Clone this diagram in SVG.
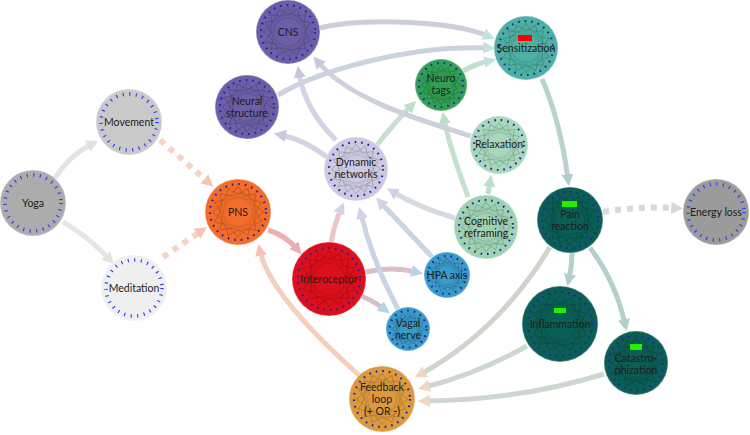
<svg xmlns="http://www.w3.org/2000/svg" xmlns:xlink="http://www.w3.org/1999/xlink" width="750" height="435" viewBox="0 0 750 435">
<style>
text{font-family:Lato,"Open Sans","Liberation Sans",sans-serif;font-size:10.5px;fill:#1c1c1c;text-anchor:middle}
.e{fill:none;stroke-width:5;stroke-linecap:butt}
.d{stroke-dasharray:6 6;stroke-width:6}
.dots{fill:none;stroke:#23239a;stroke-width:2.2;stroke-dasharray:1.6 5}
.ticks{fill:none;stroke:#2a3cf0;stroke-width:3.5;stroke-dasharray:1.1 5.5}
.rim{stroke:#ffffff;stroke-opacity:0.25;stroke-width:1.5}
</style>
<defs>
<symbol id="net" viewBox="-1 -1 2 2" overflow="visible">
<g fill="none" stroke="#000" stroke-width="0.5">
<path stroke-opacity="0.13" vector-effect="non-scaling-stroke" d="M0.85,0 L-0.325,0.785 L-0.601,-0.601 L0.785,-0.325 L0,0.85 L-0.785,-0.325 L0.601,-0.601 L0.325,0.785 L-0.85,0 L0.325,-0.785 L0.601,0.601 L-0.785,0.325 L0,-0.85 L0.785,0.325 L-0.601,0.601 L-0.325,-0.785 Z"/>
<path stroke-opacity="0.24" vector-effect="non-scaling-stroke" d="M0.85,0 Q0.45,0.3 0.325,0.785 Q0,0.45 -0.601,0.601 Q-0.4,0.1 -0.785,-0.325 Q-0.3,-0.4 0,-0.85 Q0.35,-0.35 0.785,-0.325 Q0.45,0.05 0.601,0.601 Q0.1,0.5 -0.325,0.785 Q-0.4,0.3 -0.85,0 Q-0.45,-0.3 -0.325,-0.785 Q0.1,-0.5 0.601,-0.601 Q0.45,-0.1 0.785,0.325 Q0.35,0.45 0,0.85 Q-0.3,0.4 -0.785,0.325 Q-0.45,-0.1 -0.601,-0.601 Q-0.05,-0.45 0.325,-0.785 Q0.4,-0.3 0.85,0"/>
</g>
</symbol>
<marker id="mGrey" viewBox="0 0 10 10" refX="4" refY="5" markerWidth="12" markerHeight="13" markerUnits="userSpaceOnUse" orient="auto"><path d="M0,0 L10,5 L0,10 Z" fill="#e2e2e2"/></marker>
<marker id="mDGrey" viewBox="0 0 10 10" refX="4" refY="5" markerWidth="12" markerHeight="13" markerUnits="userSpaceOnUse" orient="auto"><path d="M0,0 L10,5 L0,10 Z" fill="#d6d6d6"/></marker>
<marker id="mPns" viewBox="0 0 10 10" refX="4" refY="5" markerWidth="12" markerHeight="13" markerUnits="userSpaceOnUse" orient="auto"><path d="M0,0 L10,5 L0,10 Z" fill="#f8c4b2"/></marker>
<marker id="mInt" viewBox="0 0 10 10" refX="4" refY="5" markerWidth="12" markerHeight="13" markerUnits="userSpaceOnUse" orient="auto"><path d="M0,0 L10,5 L0,10 Z" fill="#eaaeb0"/></marker>
<marker id="mDyn" viewBox="0 0 10 10" refX="4" refY="5" markerWidth="12" markerHeight="13" markerUnits="userSpaceOnUse" orient="auto"><path d="M0,0 L10,5 L0,10 Z" fill="#d3d1e5"/></marker>
<marker id="mBlue" viewBox="0 0 10 10" refX="4" refY="5" markerWidth="12" markerHeight="13" markerUnits="userSpaceOnUse" orient="auto"><path d="M0,0 L10,5 L0,10 Z" fill="#b8d3e8"/></marker>
<marker id="mPur" viewBox="0 0 10 10" refX="4" refY="5" markerWidth="12" markerHeight="13" markerUnits="userSpaceOnUse" orient="auto"><path d="M0,0 L10,5 L0,10 Z" fill="#c9c6df"/></marker>
<marker id="mGreen" viewBox="0 0 10 10" refX="4" refY="5" markerWidth="12" markerHeight="13" markerUnits="userSpaceOnUse" orient="auto"><path d="M0,0 L10,5 L0,10 Z" fill="#bddec8"/></marker>
<marker id="mTeal" viewBox="0 0 10 10" refX="4" refY="5" markerWidth="12" markerHeight="13" markerUnits="userSpaceOnUse" orient="auto"><path d="M0,0 L10,5 L0,10 Z" fill="#c4e1dc"/></marker>
<marker id="mDTeal" viewBox="0 0 10 10" refX="4" refY="5" markerWidth="12" markerHeight="13" markerUnits="userSpaceOnUse" orient="auto"><path d="M0,0 L10,5 L0,10 Z" fill="#b3cdca"/></marker>
<marker id="mFeed" viewBox="0 0 10 10" refX="4" refY="5" markerWidth="12" markerHeight="13" markerUnits="userSpaceOnUse" orient="auto"><path d="M0,0 L10,5 L0,10 Z" fill="#f2d5c2"/></marker>
</defs>

<g id="connectors">
<path class="e" stroke="#e4e4e4" marker-end="url(#mGrey)" d="M55,178 Q70,155 92,144"/>
<path class="e" stroke="#e6e6e6" marker-end="url(#mGrey)" d="M63,222 Q88,236 109,259"/>
<path class="e d" stroke="#f6d3c9" marker-end="url(#mPns)" d="M160,140 L208,182"/>
<path class="e d" stroke="#f6d3c9" marker-end="url(#mPns)" d="M163,257 L201,231"/>
<path class="e" stroke="#eeb0ae" marker-end="url(#mInt)" d="M268,230 Q285,235 297,249"/>
<path class="e" stroke="#f5cfbd" marker-end="url(#mPns)" d="M360,376 Q270,296 260,251"/>
<path class="e" stroke="#ebc6ca" marker-end="url(#mDyn)" d="M331,243 Q334,225 341,209"/>
<path class="e" stroke="#d9bfc9" marker-end="url(#mBlue)" d="M366,272 Q392,266 416,272"/>
<path class="e" stroke="#d2c0cc" marker-end="url(#mBlue)" d="M361,296 Q372,300 384,309"/>
<path class="e" stroke="#c9d4e4" marker-end="url(#mDyn)" d="M398,309 Q372,260 361,214"/>
<path class="e" stroke="#c9d4e4" marker-end="url(#mDyn)" d="M432,257 Q405,228 381,203"/>
<path class="e" stroke="#d6dbe2" marker-end="url(#mDyn)" d="M455,218 Q420,208 393,192"/>
<path class="e" stroke="#bbdec8" marker-end="url(#mGreen)" d="M488,194 L490,182"/>
<path class="e" stroke="#c5e1cd" marker-end="url(#mGreen)" d="M468,197 Q448,142 444,119"/>
<path class="e" stroke="#d5d3e3" marker-end="url(#mPur)" d="M327,157 Q305,140 281,135"/>
<path class="e" stroke="#d5d3e3" marker-end="url(#mPur)" d="M336,140 Q305,110 299,73"/>
<path class="e" stroke="#c9ddd0" marker-end="url(#mGreen)" d="M377,145 Q395,122 411,106"/>
<path class="e" stroke="#cdd1dc" marker-end="url(#mPur)" d="M471,136 C420,120 350,100 318,62"/>
<path class="e" stroke="#cbcedb" marker-end="url(#mTeal)" d="M320,28 C360,18 450,20 488,36"/>
<path class="e" stroke="#cad3de" marker-end="url(#mTeal)" d="M278,95 C320,70 410,45 488,48"/>
<path class="e" stroke="#c1e0d3" marker-end="url(#mTeal)" d="M463,71 Q475,64 489,61"/>
<path class="e" stroke="#bad2cf" marker-end="url(#mDTeal)" d="M542,79 Q560,120 568,179"/>
<path class="e d" stroke="#d9d9d9" marker-end="url(#mDGrey)" d="M603,212 Q640,206 676,208"/>
<path class="e" stroke="#b6cfcc" marker-end="url(#mDTeal)" d="M572,253 Q572,265 569,279"/>
<path class="e" stroke="#b6cfcc" marker-end="url(#mDTeal)" d="M590,248 Q615,280 625,324"/>
<path class="e" stroke="#cfd5cb" marker-end="url(#mFeed)" d="M550,247 Q500,330 421,374"/>
<path class="e" stroke="#cdd7d0" marker-end="url(#mFeed)" d="M527,346 Q475,375 425,387"/>
<path class="e" stroke="#ced7ce" marker-end="url(#mFeed)" d="M604,374 Q520,400 425,401"/>
</g>

<g id="yoga"><circle class="rim" cx="33" cy="203" r="33" fill="#acacac"/><circle class="ticks" cx="33" cy="203" r="28"/><text x="33" y="207">Yoga</text></g>
<g id="movement"><circle class="rim" cx="129" cy="122" r="33" fill="#c9c9c9"/><circle class="ticks" cx="129" cy="122" r="28"/><text x="129" y="126">Movement</text></g>
<g id="meditation"><circle class="rim" cx="134" cy="288" r="33" fill="#efefef"/><circle class="ticks" cx="134" cy="288" r="28"/><text x="134" y="292">Meditation</text></g>
<g id="energy-loss"><circle class="rim" cx="716" cy="212" r="33" fill="#9b9b9b"/><circle class="ticks" cx="716" cy="212" r="28"/><text x="716" y="216">Energy loss</text></g>

<g id="pns"><circle class="rim" cx="238" cy="212" r="33" fill="#f26c2b"/><use href="#net" x="208" y="182" width="60" height="60"/><circle class="dots" cx="238" cy="212" r="28"/><text x="238" y="216">PNS</text></g>
<g id="cns"><circle class="rim" cx="288" cy="32" r="32" fill="#6c5fa7"/><use href="#net" x="259" y="3" width="58" height="58"/><circle class="dots" cx="288" cy="32" r="27"/><text x="288" y="36">CNS</text></g>
<g id="neural-structure"><circle class="rim" cx="247" cy="107" r="32" fill="#6c5fa7"/><use href="#net" x="218" y="78" width="58" height="58"/><circle class="dots" cx="247" cy="107" r="27"/><text x="247" y="105">Neural</text><text x="247" y="117">structure</text></g>
<g id="dynamic-networks"><circle class="rim" cx="356" cy="169" r="32" fill="#cccae0"/><use href="#net" x="327" y="140" width="58" height="58"/><circle class="dots" cx="356" cy="169" r="27"/><text x="356" y="166">Dynamic</text><text x="356" y="178">networks</text></g>
<g id="neuro-tags"><circle class="rim" cx="441" cy="85" r="26" fill="#31a054"/><use href="#net" x="418" y="62" width="46" height="46"/><circle class="dots" cx="441" cy="85" r="22"/><text x="441" y="82">Neuro</text><text x="441" y="94">tags</text></g>
<g id="sensitization"><circle class="rim" cx="526" cy="48" r="32" fill="#4db0a2"/><use href="#net" x="497" y="19" width="58" height="58"/><circle class="dots" cx="526" cy="48" r="27"/><rect x="518" y="35" width="14" height="6" fill="#ff0000"/><text x="526" y="52">Sensitization</text></g>
<g id="relaxation"><circle class="rim" cx="499" cy="145" r="29" fill="#a8d8bc"/><use href="#net" x="473" y="119" width="52" height="52"/><circle class="dots" cx="499" cy="145" r="25"/><text x="499" y="148">Relaxation</text></g>
<g id="cognitive-reframing"><circle class="rim" cx="486" cy="227" r="32" fill="#9fd2b3"/><use href="#net" x="457" y="198" width="58" height="58"/><circle class="dots" cx="486" cy="227" r="27"/><text x="486" y="225">Cognitive</text><text x="486" y="237">reframing</text></g>
<g id="interoceptor"><circle class="rim" cx="329" cy="279" r="37" fill="#dc0f1c"/><use href="#net" x="296" y="246" width="66" height="66"/><circle class="dots" cx="329" cy="279" r="31"/><text x="329" y="283">Interoceptor</text></g>
<g id="hpa-axis"><circle class="rim" cx="447" cy="275" r="23" fill="#3a9bcb"/><use href="#net" x="427" y="255" width="40" height="40"/><circle class="dots" cx="447" cy="275" r="19"/><text x="447" y="279">HPA axis</text></g>
<g id="vagal-nerve"><circle class="rim" cx="408" cy="329" r="22" fill="#3a9bcb"/><use href="#net" x="389" y="310" width="38" height="38"/><circle class="dots" cx="408" cy="329" r="18.5"/><text x="408" y="327">Vagal</text><text x="408" y="339">nerve</text></g>
<g id="pain-reaction"><circle class="rim" cx="570" cy="220" r="33" fill="#0b5e55"/><use href="#net" x="540" y="190" width="60" height="60"/><circle class="dots" cx="570" cy="220" r="28"/><rect x="562" y="201" width="15" height="6" fill="#22ee00"/><text x="570" y="218">Pain</text><text x="570" y="230">reaction</text></g>
<g id="inflammation"><circle class="rim" cx="560" cy="324" r="38" fill="#0b5e55"/><use href="#net" x="526" y="290" width="68" height="68"/><circle class="dots" cx="560" cy="324" r="32"/><rect x="554" y="308" width="12" height="5" fill="#22ee00"/><text x="560" y="328">Inflammation</text></g>
<g id="catastrophization"><circle class="rim" cx="636" cy="363" r="32" fill="#0b5e55"/><use href="#net" x="607" y="334" width="58" height="58"/><circle class="dots" cx="636" cy="363" r="27"/><rect x="630" y="344" width="12" height="6" fill="#22ee00"/><text x="636" y="362">Catastro-</text><text x="636" y="374">phization</text></g>
<g id="feedback-loop"><circle class="rim" cx="382" cy="399" r="33" fill="#dc9a3e"/><use href="#net" x="352" y="369" width="60" height="60"/><circle class="dots" cx="382" cy="399" r="28"/><text x="382" y="391">Feedback</text><text x="382" y="403">loop</text><text x="382" y="415">(+ OR -)</text></g>
</svg>
